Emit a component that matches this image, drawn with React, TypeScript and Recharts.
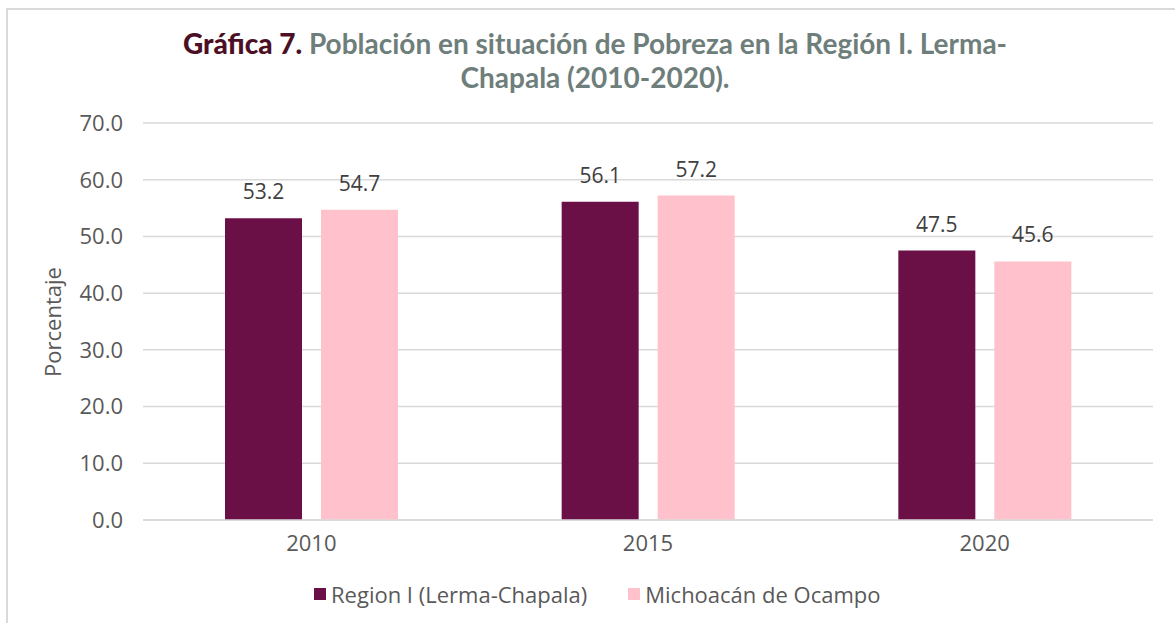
import React from 'react'
import { BarChart, Bar, XAxis, YAxis, CartesianGrid, LabelList } from 'recharts'

const years = ['2010', '2015', '2020']
const regionValues = [53.2, 56.1, 47.5]
const michoacanValues = [54.7, 57.2, 45.6]
const yTicks = [0, 10, 20, 30, 40, 50, 60, 70]

const seriesNames = ['Region I (Lerma-Chapala)', 'Michoacán de Ocampo']
const colors = ['#6b0f47', '#ffc1cc']

const data = years.map((y, i) => ({
  year: y,
  region: regionValues[i],
  michoacan: michoacanValues[i],
}))

const font = '"Open Sans", sans-serif'
const fmt = (v: number): string => Number(v).toFixed(1)

export default function App(): JSX.Element {
  return (
    <div style={{ position: 'relative', width: 1175, height: 623, background: '#fff', fontFamily: font }}>
      <style>{'body{margin:0}'}</style>
      {/* frame */}
      <div
        style={{
          position: 'absolute',
          left: 6,
          top: 8,
          width: 1175,
          height: 620,
          borderTop: '2px solid #dadada',
          borderLeft: '2px solid #dadada',
        }}
      />
      {/* title */}
      <div
        style={{
          position: 'absolute',
          left: 0,
          top: 26,
          width: 1190,
          textAlign: 'center',
          fontFamily: 'Lato, sans-serif',
          fontWeight: 700,
          fontSize: 28,
          lineHeight: '34px',
          color: '#6e7e7b',
        }}
      >
        <div>
          <span style={{ color: '#4d0f25', fontWeight: 900 }}>Gráfica 7.</span> Población en situación de Pobreza en la Región I. Lerma-
        </div>
        <div>Chapala (2010-2020).</div>
      </div>
      {/* y axis title */}
      <div
        style={{
          position: 'absolute',
          left: 52,
          top: 322,
          transform: 'translate(-50%, -50%) rotate(-90deg)',
          fontSize: 22,
          color: '#595959',
          whiteSpace: 'nowrap',
        }}
      >
        Porcentaje
      </div>
      <div style={{ position: 'absolute', left: 0, top: 0 }}>
        <BarChart
          width={1175}
          height={623}
          data={data}
          margin={{ top: 123, right: 22, bottom: 63, left: 0 }}
          barGap={19}
        >
          <CartesianGrid vertical={false} stroke="#d9d9d9" strokeWidth={1.5} />
          <XAxis
            dataKey="year"
            height={40}
            tickLine={false}
            tickSize={0}
            tickMargin={15}
            axisLine={{ stroke: '#d9d9d9', strokeWidth: 1.5 }}
            tick={{ fill: '#595959', fontSize: 22, fontFamily: font }}
          />
          <YAxis
            width={143}
            domain={[0, 70]}
            ticks={yTicks}
            tickFormatter={fmt}
            axisLine={false}
            tickLine={false}
            tickSize={0}
            tickMargin={20}
            tick={{ fill: '#595959', fontSize: 22, fontFamily: font }}
          />
          <Bar dataKey="region" fill={colors[0]} barSize={77} isAnimationActive={false}>
            <LabelList dataKey="region" position="top" offset={19} formatter={fmt} fill="#404040" fontSize={21} fontFamily={font} />
          </Bar>
          <Bar dataKey="michoacan" fill={colors[1]} barSize={77} isAnimationActive={false}>
            <LabelList dataKey="michoacan" position="top" offset={19} formatter={fmt} fill="#404040" fontSize={21} fontFamily={font} />
          </Bar>
        </BarChart>
      </div>
      {/* legend */}
      <div
        style={{
          position: 'absolute',
          left: 314,
          top: 579,
          display: 'flex',
          alignItems: 'center',
          fontSize: 22,
          color: '#595959',
          whiteSpace: 'nowrap',
        }}
      >
        {seriesNames.map((n, i) => (
          <div key={n} style={{ display: 'flex', alignItems: 'center', marginRight: i === 0 ? 41 : 0 }}>
            <span style={{ width: 12, height: 12, background: colors[i], marginRight: 5, display: 'inline-block' }} />
            <span>{n}</span>
          </div>
        ))}
      </div>
    </div>
  )
}
